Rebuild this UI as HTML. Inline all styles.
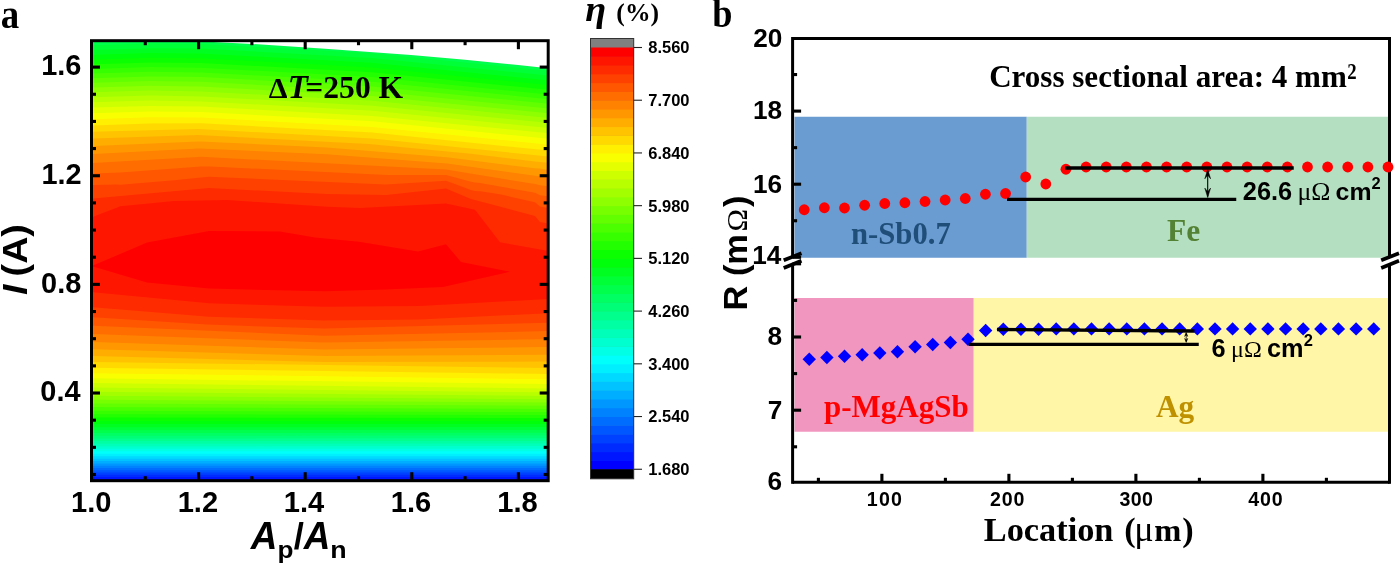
<!DOCTYPE html>
<html lang="en"><head><meta charset="utf-8"><title>Figure</title>
<style>
html,body{margin:0;padding:0;background:#fff;}
body{width:1400px;height:564px;overflow:hidden;}
svg{display:block;}
text{white-space:pre;}
</style></head>
<body>
<svg width="1400" height="564" viewBox="0 0 1400 564">
<defs><clipPath id="clipA"><rect x="91.5" y="40.7" width="456.7" height="440.0"/></clipPath></defs>
<rect width="1400" height="564" fill="#fff"/>
<g clip-path="url(#clipA)"><rect x="91.5" y="40.7" width="456.7" height="440.0" fill="#0000ff"/><path d="M93.0,40.7 537.0,40.7 540.0,40.8 546.0,41.5 548.2,41.5 548.2,479.2 93.0,479.2Z" fill="#0016ff"/><path d="M93.0,40.7 537.0,40.7 540.0,40.8 546.0,41.5 548.2,41.5 548.2,477.0 93.0,477.0Z" fill="#002bff"/><path d="M93.0,40.7 537.0,40.7 540.0,40.8 546.0,41.5 548.2,41.5 548.2,474.7 93.0,474.7Z" fill="#0041ff"/><path d="M93.0,40.7 537.0,40.7 540.0,40.8 546.0,41.5 548.2,41.5 548.2,472.5 93.0,472.5Z" fill="#0057ff"/><path d="M93.0,40.7 537.0,40.7 540.0,40.8 546.0,41.5 548.2,41.5 548.2,470.2 93.0,470.2Z" fill="#006dff"/><path d="M93.0,40.7 537.0,40.7 540.0,40.8 546.0,41.5 548.2,41.5 548.2,468.0 93.0,468.0Z" fill="#0082ff"/><path d="M93.0,40.7 537.0,40.7 540.0,40.8 546.0,41.5 548.2,41.5 548.2,465.7 93.0,465.7Z" fill="#0098ff"/><path d="M93.0,40.7 537.0,40.7 540.0,40.8 546.0,41.5 548.2,41.5 548.2,463.4 93.0,463.4Z" fill="#00aeff"/><path d="M93.0,40.7 537.0,40.7 540.0,40.8 546.0,41.5 548.2,41.5 548.2,461.1 93.0,461.1Z" fill="#00c3ff"/><path d="M93.0,40.7 537.0,40.7 540.0,40.8 546.0,41.5 548.2,41.5 548.2,458.7 93.0,458.7Z" fill="#00d9ff"/><path d="M93.0,40.7 537.0,40.7 540.0,40.8 546.0,41.5 548.2,41.5 548.2,456.3 93.0,456.3Z" fill="#00efff"/><path d="M93.0,40.7 537.0,40.7 540.0,40.8 546.0,41.5 548.2,41.5 548.2,453.8 93.0,453.8Z" fill="#00fffa"/><path d="M93.0,40.7 537.0,40.7 540.0,40.8 546.0,41.5 548.2,41.5 548.2,451.3 93.0,451.3Z" fill="#00ffe4"/><path d="M93.0,40.7 537.0,40.7 540.0,40.8 546.0,41.5 548.2,41.5 548.2,448.7 93.0,448.8Z" fill="#00ffce"/><path d="M93.0,40.7 528.0,40.7 531.0,40.8 546.0,42.5 548.2,42.5 548.2,446.1 93.0,446.2Z" fill="#00ffb8"/><path d="M93.0,40.7 486.0,40.7 546.0,47.1 548.2,47.1 548.2,443.5 93.0,443.7Z" fill="#00ffa3"/><path d="M93.0,40.7 441.0,40.7 546.0,51.7 548.2,51.7 548.2,440.9 93.0,441.1Z" fill="#00ff8d"/><path d="M93.0,40.7 390.0,40.7 546.0,56.4 548.2,56.4 548.2,438.2 93.0,438.5Z" fill="#00ff77"/><path d="M93.0,40.7 318.0,40.7 372.0,43.8 546.0,61.1 548.2,61.1 548.2,435.5 93.0,435.8Z" fill="#00ff62"/><path d="M93.0,40.7 234.0,40.8 372.0,48.5 546.0,65.8 548.2,65.8 548.2,432.7 93.0,433.0Z" fill="#00ff4c"/><path d="M93.0,45.2 150.0,43.4 201.0,43.9 372.0,53.2 546.0,70.5 548.2,70.5 548.2,429.9 93.0,430.2Z" fill="#00ff36"/><path d="M93.0,50.0 150.0,48.2 201.0,48.6 372.0,58.0 546.0,75.3 548.2,75.3 548.2,427.0 93.0,427.2Z" fill="#00ff21"/><path d="M93.0,54.7 150.0,52.9 201.0,53.4 372.0,62.7 546.0,80.0 548.2,80.0 548.2,424.0 93.0,424.1Z" fill="#00ff0b"/><path d="M93.0,59.5 150.0,57.7 201.0,58.2 372.0,67.5 546.0,84.8 548.2,84.8 548.2,421.0 93.0,420.9Z" fill="#0bff00"/><path d="M93.0,64.2 150.0,62.5 201.0,62.9 372.0,72.3 546.0,89.6 548.2,89.6 548.2,418.0 93.0,417.6Z" fill="#21ff00"/><path d="M93.0,68.9 150.0,67.1 201.0,67.7 372.0,77.0 546.0,94.3 548.2,94.3 548.2,415.0 93.0,414.2Z" fill="#36ff00"/><path d="M93.0,73.5 150.0,71.8 201.0,72.4 372.0,81.7 546.0,98.9 548.2,98.9 548.2,412.0 93.0,410.7Z" fill="#4cff00"/><path d="M93.0,78.2 150.0,76.4 201.0,77.1 372.0,86.4 546.0,103.6 548.2,103.6 548.2,408.9 93.0,407.1Z" fill="#62ff00"/><path d="M93.0,82.8 150.0,81.1 201.0,81.8 372.0,91.2 546.0,108.3 548.2,108.3 548.2,405.8 93.0,403.5Z" fill="#77ff00"/><path d="M93.0,87.5 150.0,85.8 201.0,86.6 372.0,96.0 546.0,113.0 548.2,113.0 548.2,402.6 93.0,399.7Z" fill="#8dff00"/><path d="M93.0,92.3 150.0,90.6 201.0,91.4 372.0,100.8 546.0,117.8 548.2,117.8 548.2,399.3 93.0,395.8Z" fill="#a3ff00"/><path d="M93.0,97.2 150.0,95.6 201.0,96.4 372.0,105.7 546.0,122.7 548.2,122.7 548.2,395.9 93.0,391.8Z" fill="#b8ff00"/><path d="M93.0,102.3 150.0,100.6 201.0,101.4 372.0,110.8 546.0,127.8 548.2,127.8 548.2,392.3 93.0,387.5Z" fill="#ceff00"/><path d="M93.0,107.6 150.0,105.9 201.0,106.6 372.0,116.0 546.0,133.1 548.2,133.1 548.2,388.4 93.0,383.0Z" fill="#e4ff00"/><path d="M93.0,113.2 150.0,111.4 201.0,112.0 372.0,121.3 546.0,138.6 548.2,138.6 548.2,384.1 93.0,378.3Z" fill="#faff00"/><path d="M93.0,119.2 150.0,117.3 201.0,117.6 372.0,126.9 546.0,144.4 548.2,144.4 548.2,379.2 93.0,373.2Z" fill="#ffef00"/><path d="M93.0,125.4 150.0,123.4 201.0,123.3 372.0,132.6 546.0,150.3 548.2,150.2 548.2,373.9 93.0,367.8Z" fill="#ffd900"/><path d="M93.0,131.8 198.0,129.0 372.0,138.4 546.0,156.3 548.2,156.3 548.2,368.0 93.0,362.0Z" fill="#ffc300"/><path d="M93.0,138.6 198.0,135.0 369.0,144.1 471.0,153.8 535.0,161.6 540.0,161.9 546.0,162.6 548.2,162.6 548.2,361.6 324.0,362.1 93.0,355.9Z" fill="#ffae00"/><path d="M93.0,145.9 198.0,141.4 201.0,141.4 327.0,147.4 447.0,157.3 535.0,168.3 540.0,168.6 546.0,169.4 548.2,169.4 548.2,354.7 324.0,356.1 93.0,349.3Z" fill="#ff9800"/><path d="M93.0,153.9 198.0,148.5 201.0,148.5 327.0,154.2 447.0,163.5 535.0,175.8 540.0,176.2 546.0,177.0 548.2,177.0 548.2,347.1 324.0,349.6 93.0,342.0Z" fill="#ff8200"/><path d="M93.0,163.1 198.0,156.9 201.0,156.8 446.0,169.4 535.0,184.1 540.0,185.2 546.0,186.1 548.2,186.1 548.2,339.1 324.0,342.5 93.0,334.0Z" fill="#ff6d00"/><path d="M93.0,173.4 120.5,172.6 201.0,166.5 210.0,166.4 387.0,175.1 446.0,174.9 471.0,181.8 475.0,182.6 480.0,183.1 535.0,192.7 540.0,195.2 546.0,196.1 548.2,196.3 548.2,331.1 324.0,335.7 93.0,325.8Z" fill="#ff5700"/><path d="M93.0,184.9 117.0,184.6 120.5,184.7 174.0,180.3 201.0,177.4 209.0,176.8 386.0,184.6 446.0,180.8 471.0,190.1 475.0,191.1 480.0,191.3 492.0,193.0 501.0,194.6 535.0,202.2 540.0,206.6 548.2,207.9 548.2,322.7 324.0,328.6 207.0,324.5 93.0,317.2Z" fill="#ff4100"/><path d="M93.0,198.6 209.0,188.0 327.0,194.0 386.0,195.0 446.0,188.5 471.0,199.0 535.0,216.0 540.0,222.0 548.2,223.5 548.2,313.2 420.0,319.4 324.0,320.5 209.0,316.7 93.0,307.3Z" fill="#ff2b00"/><path d="M93.0,216.8 120.5,206.2 174.0,200.9 227.0,200.0 327.0,206.8 360.0,208.0 446.0,203.5 475.0,209.8 500.0,242.2 546.0,250.5 548.2,250.5 548.2,298.9 420.0,306.0 324.0,306.8 209.0,303.3 93.0,292.2Z" fill="#ff1600"/><path d="M93.0,265.6 147.0,242.5 209.0,231.0 280.0,231.5 315.0,237.6 359.0,241.7 418.0,251.4 446.0,244.3 461.0,262.0 510.0,271.8 443.0,286.9 386.0,289.5 325.0,291.3 209.0,288.6 147.0,282.4 93.0,266.5Z" fill="#ff0000"/><path d="M192.0,40.7 218.0,42.3 252.0,43.9 325.0,48.7 411.0,55.0 465.0,59.8 518.0,65.0 548.2,68.2 548.2,40.7Z" fill="#fff"/></g>
<rect x="91.50" y="40.70" width="456.70" height="440.00" fill="none" stroke="#000" stroke-width="3"/>
<line x1="145.30" y1="480.70" x2="145.30" y2="476.20" stroke="#000" stroke-width="3.1" stroke-linecap="butt"/>
<line x1="145.30" y1="40.70" x2="145.30" y2="45.20" stroke="#000" stroke-width="3.1" stroke-linecap="butt"/>
<line x1="198.60" y1="480.70" x2="198.60" y2="472.20" stroke="#000" stroke-width="3.1" stroke-linecap="butt"/>
<line x1="198.60" y1="40.70" x2="198.60" y2="49.20" stroke="#000" stroke-width="3.1" stroke-linecap="butt"/>
<line x1="251.90" y1="480.70" x2="251.90" y2="476.20" stroke="#000" stroke-width="3.1" stroke-linecap="butt"/>
<line x1="251.90" y1="40.70" x2="251.90" y2="45.20" stroke="#000" stroke-width="3.1" stroke-linecap="butt"/>
<line x1="305.20" y1="480.70" x2="305.20" y2="472.20" stroke="#000" stroke-width="3.1" stroke-linecap="butt"/>
<line x1="305.20" y1="40.70" x2="305.20" y2="49.20" stroke="#000" stroke-width="3.1" stroke-linecap="butt"/>
<line x1="358.50" y1="480.70" x2="358.50" y2="476.20" stroke="#000" stroke-width="3.1" stroke-linecap="butt"/>
<line x1="358.50" y1="40.70" x2="358.50" y2="45.20" stroke="#000" stroke-width="3.1" stroke-linecap="butt"/>
<line x1="411.80" y1="480.70" x2="411.80" y2="472.20" stroke="#000" stroke-width="3.1" stroke-linecap="butt"/>
<line x1="411.80" y1="40.70" x2="411.80" y2="49.20" stroke="#000" stroke-width="3.1" stroke-linecap="butt"/>
<line x1="465.10" y1="480.70" x2="465.10" y2="476.20" stroke="#000" stroke-width="3.1" stroke-linecap="butt"/>
<line x1="465.10" y1="40.70" x2="465.10" y2="45.20" stroke="#000" stroke-width="3.1" stroke-linecap="butt"/>
<line x1="518.40" y1="480.70" x2="518.40" y2="472.20" stroke="#000" stroke-width="3.1" stroke-linecap="butt"/>
<line x1="518.40" y1="40.70" x2="518.40" y2="49.20" stroke="#000" stroke-width="3.1" stroke-linecap="butt"/>
<line x1="91.50" y1="474.50" x2="96.00" y2="474.50" stroke="#000" stroke-width="3.1" stroke-linecap="butt"/>
<line x1="548.20" y1="474.50" x2="543.70" y2="474.50" stroke="#000" stroke-width="3.1" stroke-linecap="butt"/>
<line x1="91.50" y1="447.34" x2="96.00" y2="447.34" stroke="#000" stroke-width="3.1" stroke-linecap="butt"/>
<line x1="548.20" y1="447.34" x2="543.70" y2="447.34" stroke="#000" stroke-width="3.1" stroke-linecap="butt"/>
<line x1="91.50" y1="420.18" x2="96.00" y2="420.18" stroke="#000" stroke-width="3.1" stroke-linecap="butt"/>
<line x1="548.20" y1="420.18" x2="543.70" y2="420.18" stroke="#000" stroke-width="3.1" stroke-linecap="butt"/>
<line x1="91.50" y1="393.02" x2="100.00" y2="393.02" stroke="#000" stroke-width="3.1" stroke-linecap="butt"/>
<line x1="548.20" y1="393.02" x2="539.70" y2="393.02" stroke="#000" stroke-width="3.1" stroke-linecap="butt"/>
<line x1="91.50" y1="365.86" x2="96.00" y2="365.86" stroke="#000" stroke-width="3.1" stroke-linecap="butt"/>
<line x1="548.20" y1="365.86" x2="543.70" y2="365.86" stroke="#000" stroke-width="3.1" stroke-linecap="butt"/>
<line x1="91.50" y1="338.70" x2="96.00" y2="338.70" stroke="#000" stroke-width="3.1" stroke-linecap="butt"/>
<line x1="548.20" y1="338.70" x2="543.70" y2="338.70" stroke="#000" stroke-width="3.1" stroke-linecap="butt"/>
<line x1="91.50" y1="311.54" x2="96.00" y2="311.54" stroke="#000" stroke-width="3.1" stroke-linecap="butt"/>
<line x1="548.20" y1="311.54" x2="543.70" y2="311.54" stroke="#000" stroke-width="3.1" stroke-linecap="butt"/>
<line x1="91.50" y1="284.38" x2="100.00" y2="284.38" stroke="#000" stroke-width="3.1" stroke-linecap="butt"/>
<line x1="548.20" y1="284.38" x2="539.70" y2="284.38" stroke="#000" stroke-width="3.1" stroke-linecap="butt"/>
<line x1="91.50" y1="257.22" x2="96.00" y2="257.22" stroke="#000" stroke-width="3.1" stroke-linecap="butt"/>
<line x1="548.20" y1="257.22" x2="543.70" y2="257.22" stroke="#000" stroke-width="3.1" stroke-linecap="butt"/>
<line x1="91.50" y1="230.06" x2="96.00" y2="230.06" stroke="#000" stroke-width="3.1" stroke-linecap="butt"/>
<line x1="548.20" y1="230.06" x2="543.70" y2="230.06" stroke="#000" stroke-width="3.1" stroke-linecap="butt"/>
<line x1="91.50" y1="202.90" x2="96.00" y2="202.90" stroke="#000" stroke-width="3.1" stroke-linecap="butt"/>
<line x1="548.20" y1="202.90" x2="543.70" y2="202.90" stroke="#000" stroke-width="3.1" stroke-linecap="butt"/>
<line x1="91.50" y1="175.74" x2="100.00" y2="175.74" stroke="#000" stroke-width="3.1" stroke-linecap="butt"/>
<line x1="548.20" y1="175.74" x2="539.70" y2="175.74" stroke="#000" stroke-width="3.1" stroke-linecap="butt"/>
<line x1="91.50" y1="148.58" x2="96.00" y2="148.58" stroke="#000" stroke-width="3.1" stroke-linecap="butt"/>
<line x1="548.20" y1="148.58" x2="543.70" y2="148.58" stroke="#000" stroke-width="3.1" stroke-linecap="butt"/>
<line x1="91.50" y1="121.42" x2="96.00" y2="121.42" stroke="#000" stroke-width="3.1" stroke-linecap="butt"/>
<line x1="548.20" y1="121.42" x2="543.70" y2="121.42" stroke="#000" stroke-width="3.1" stroke-linecap="butt"/>
<line x1="91.50" y1="94.26" x2="96.00" y2="94.26" stroke="#000" stroke-width="3.1" stroke-linecap="butt"/>
<line x1="548.20" y1="94.26" x2="543.70" y2="94.26" stroke="#000" stroke-width="3.1" stroke-linecap="butt"/>
<line x1="91.50" y1="67.10" x2="100.00" y2="67.10" stroke="#000" stroke-width="3.1" stroke-linecap="butt"/>
<line x1="548.20" y1="67.10" x2="539.70" y2="67.10" stroke="#000" stroke-width="3.1" stroke-linecap="butt"/>
<text x="41.24" y="75.40" style="font-family:'Liberation Sans', Arial, sans-serif;font-weight:bold;font-style:normal;font-size:28.90px" fill="#000">1.6</text>
<text x="41.39" y="184.04" style="font-family:'Liberation Sans', Arial, sans-serif;font-weight:bold;font-style:normal;font-size:28.90px" fill="#000">1.2</text>
<text x="41.10" y="292.68" style="font-family:'Liberation Sans', Arial, sans-serif;font-weight:bold;font-style:normal;font-size:28.90px" fill="#000">0.8</text>
<text x="40.37" y="401.32" style="font-family:'Liberation Sans', Arial, sans-serif;font-weight:bold;font-style:normal;font-size:28.90px" fill="#000">0.4</text>
<text x="71.08" y="512.10" style="font-family:'Liberation Sans', Arial, sans-serif;font-weight:bold;font-style:normal;font-size:29.10px" fill="#000">1.0</text>
<text x="177.68" y="512.10" style="font-family:'Liberation Sans', Arial, sans-serif;font-weight:bold;font-style:normal;font-size:29.10px" fill="#000">1.2</text>
<text x="283.78" y="512.10" style="font-family:'Liberation Sans', Arial, sans-serif;font-weight:bold;font-style:normal;font-size:29.10px" fill="#000">1.4</text>
<text x="390.81" y="512.10" style="font-family:'Liberation Sans', Arial, sans-serif;font-weight:bold;font-style:normal;font-size:29.10px" fill="#000">1.6</text>
<text x="497.34" y="512.10" style="font-family:'Liberation Sans', Arial, sans-serif;font-weight:bold;font-style:normal;font-size:29.10px" fill="#000">1.8</text>
<text transform="translate(0.69 27.50) scale(0.9330 1)" style="font-family:'Liberation Serif', 'Times New Roman', serif;font-weight:bold;font-style:normal;font-size:39.57px" fill="#000">a</text>
<text><tspan x="268.65" y="97.70" style="font-family:'Liberation Serif', 'Times New Roman', serif;font-weight:bold;font-style:normal;font-size:29.92px" fill="#000">Δ</tspan><tspan x="287.83" y="97.70" style="font-family:'Liberation Serif', 'Times New Roman', serif;font-weight:bold;font-style:italic;font-size:32.98px" fill="#000">T</tspan><tspan x="305.32" y="97.70" style="font-family:'Liberation Serif', 'Times New Roman', serif;font-weight:bold;font-style:normal;font-size:31.58px" fill="#000">=250 K</tspan></text>
<text><tspan x="250.74" y="548.50" style="font-family:'Liberation Sans', Arial, sans-serif;font-weight:bold;font-style:italic;font-size:38.41px" fill="#000" textLength="26.62" lengthAdjust="spacingAndGlyphs">A</tspan><tspan x="277.60" y="557.70" style="font-family:'Liberation Sans', Arial, sans-serif;font-weight:bold;font-style:normal;font-size:23.26px" fill="#000" textLength="15.97" lengthAdjust="spacingAndGlyphs">p</tspan><tspan x="293.63" y="548.50" style="font-family:'Liberation Sans', Arial, sans-serif;font-weight:bold;font-style:normal;font-size:36.87px" fill="#000" textLength="10.15" lengthAdjust="spacingAndGlyphs">/</tspan><tspan x="303.74" y="548.50" style="font-family:'Liberation Sans', Arial, sans-serif;font-weight:bold;font-style:italic;font-size:38.41px" fill="#000" textLength="26.62" lengthAdjust="spacingAndGlyphs">A</tspan><tspan x="330.26" y="557.70" style="font-family:'Liberation Sans', Arial, sans-serif;font-weight:bold;font-style:normal;font-size:23.26px" fill="#000" textLength="16.37" lengthAdjust="spacingAndGlyphs">n</tspan></text>
<text transform="translate(27.2 294.9) rotate(-90) scale(1.075 1)" style="font-family:'Liberation Sans', Arial, sans-serif;font-weight:bold;font-size:35px" fill="#000"><tspan style="font-style:italic">I</tspan><tspan dx="-2.2"> (A)</tspan></text>
<rect x="590.50" y="38.50" width="43.20" height="440.30" fill="#808080"/>
<rect x="590.50" y="460.47" width="43.20" height="9.29" fill="#0000ff"/>
<rect x="590.50" y="451.69" width="43.20" height="9.29" fill="#0016ff"/>
<rect x="590.50" y="442.90" width="43.20" height="9.29" fill="#002bff"/>
<rect x="590.50" y="434.11" width="43.20" height="9.29" fill="#0041ff"/>
<rect x="590.50" y="425.33" width="43.20" height="9.29" fill="#0057ff"/>
<rect x="590.50" y="416.54" width="43.20" height="9.29" fill="#006dff"/>
<rect x="590.50" y="407.75" width="43.20" height="9.29" fill="#0082ff"/>
<rect x="590.50" y="398.97" width="43.20" height="9.29" fill="#0098ff"/>
<rect x="590.50" y="390.18" width="43.20" height="9.29" fill="#00aeff"/>
<rect x="590.50" y="381.39" width="43.20" height="9.29" fill="#00c3ff"/>
<rect x="590.50" y="372.61" width="43.20" height="9.29" fill="#00d9ff"/>
<rect x="590.50" y="363.82" width="43.20" height="9.29" fill="#00efff"/>
<rect x="590.50" y="355.03" width="43.20" height="9.29" fill="#00fffa"/>
<rect x="590.50" y="346.25" width="43.20" height="9.29" fill="#00ffe4"/>
<rect x="590.50" y="337.46" width="43.20" height="9.29" fill="#00ffce"/>
<rect x="590.50" y="328.67" width="43.20" height="9.29" fill="#00ffb8"/>
<rect x="590.50" y="319.89" width="43.20" height="9.29" fill="#00ffa3"/>
<rect x="590.50" y="311.10" width="43.20" height="9.29" fill="#00ff8d"/>
<rect x="590.50" y="302.31" width="43.20" height="9.29" fill="#00ff77"/>
<rect x="590.50" y="293.53" width="43.20" height="9.29" fill="#00ff62"/>
<rect x="590.50" y="284.74" width="43.20" height="9.29" fill="#00ff4c"/>
<rect x="590.50" y="275.95" width="43.20" height="9.29" fill="#00ff36"/>
<rect x="590.50" y="267.17" width="43.20" height="9.29" fill="#00ff21"/>
<rect x="590.50" y="258.38" width="43.20" height="9.29" fill="#00ff0b"/>
<rect x="590.50" y="249.59" width="43.20" height="9.29" fill="#0bff00"/>
<rect x="590.50" y="240.81" width="43.20" height="9.29" fill="#21ff00"/>
<rect x="590.50" y="232.02" width="43.20" height="9.29" fill="#36ff00"/>
<rect x="590.50" y="223.23" width="43.20" height="9.29" fill="#4cff00"/>
<rect x="590.50" y="214.45" width="43.20" height="9.29" fill="#62ff00"/>
<rect x="590.50" y="205.66" width="43.20" height="9.29" fill="#77ff00"/>
<rect x="590.50" y="196.87" width="43.20" height="9.29" fill="#8dff00"/>
<rect x="590.50" y="188.09" width="43.20" height="9.29" fill="#a3ff00"/>
<rect x="590.50" y="179.30" width="43.20" height="9.29" fill="#b8ff00"/>
<rect x="590.50" y="170.51" width="43.20" height="9.29" fill="#ceff00"/>
<rect x="590.50" y="161.73" width="43.20" height="9.29" fill="#e4ff00"/>
<rect x="590.50" y="152.94" width="43.20" height="9.29" fill="#faff00"/>
<rect x="590.50" y="144.15" width="43.20" height="9.29" fill="#ffef00"/>
<rect x="590.50" y="135.37" width="43.20" height="9.29" fill="#ffd900"/>
<rect x="590.50" y="126.58" width="43.20" height="9.29" fill="#ffc300"/>
<rect x="590.50" y="117.79" width="43.20" height="9.29" fill="#ffae00"/>
<rect x="590.50" y="109.01" width="43.20" height="9.29" fill="#ff9800"/>
<rect x="590.50" y="100.22" width="43.20" height="9.29" fill="#ff8200"/>
<rect x="590.50" y="91.43" width="43.20" height="9.29" fill="#ff6d00"/>
<rect x="590.50" y="82.65" width="43.20" height="9.29" fill="#ff5700"/>
<rect x="590.50" y="73.86" width="43.20" height="9.29" fill="#ff4100"/>
<rect x="590.50" y="65.07" width="43.20" height="9.29" fill="#ff2b00"/>
<rect x="590.50" y="56.29" width="43.20" height="9.29" fill="#ff1600"/>
<rect x="590.50" y="47.50" width="43.20" height="9.29" fill="#ff0000"/>
<rect x="590.50" y="469.26" width="43.20" height="9.54" fill="#000"/>
<rect x="590.50" y="38.50" width="43.20" height="440.30" fill="none" stroke="#333" stroke-width="1"/>
<line x1="633.70" y1="47.50" x2="642.00" y2="47.50" stroke="#222" stroke-width="1.1" stroke-linecap="butt"/>
<text x="648.21" y="53.40" style="font-family:'Liberation Sans', Arial, sans-serif;font-weight:bold;font-style:normal;font-size:16.50px" fill="#000">8.560</text>
<line x1="633.70" y1="100.22" x2="642.00" y2="100.22" stroke="#222" stroke-width="1.1" stroke-linecap="butt"/>
<text x="648.21" y="106.12" style="font-family:'Liberation Sans', Arial, sans-serif;font-weight:bold;font-style:normal;font-size:16.50px" fill="#000">7.700</text>
<line x1="633.70" y1="152.94" x2="642.00" y2="152.94" stroke="#222" stroke-width="1.1" stroke-linecap="butt"/>
<text x="648.21" y="158.84" style="font-family:'Liberation Sans', Arial, sans-serif;font-weight:bold;font-style:normal;font-size:16.50px" fill="#000">6.840</text>
<line x1="633.70" y1="205.66" x2="642.00" y2="205.66" stroke="#222" stroke-width="1.1" stroke-linecap="butt"/>
<text x="648.21" y="211.56" style="font-family:'Liberation Sans', Arial, sans-serif;font-weight:bold;font-style:normal;font-size:16.50px" fill="#000">5.980</text>
<line x1="633.70" y1="258.38" x2="642.00" y2="258.38" stroke="#222" stroke-width="1.1" stroke-linecap="butt"/>
<text x="648.21" y="264.28" style="font-family:'Liberation Sans', Arial, sans-serif;font-weight:bold;font-style:normal;font-size:16.50px" fill="#000">5.120</text>
<line x1="633.70" y1="311.10" x2="642.00" y2="311.10" stroke="#222" stroke-width="1.1" stroke-linecap="butt"/>
<text x="648.21" y="317.00" style="font-family:'Liberation Sans', Arial, sans-serif;font-weight:bold;font-style:normal;font-size:16.50px" fill="#000">4.260</text>
<line x1="633.70" y1="363.82" x2="642.00" y2="363.82" stroke="#222" stroke-width="1.1" stroke-linecap="butt"/>
<text x="648.21" y="369.72" style="font-family:'Liberation Sans', Arial, sans-serif;font-weight:bold;font-style:normal;font-size:16.50px" fill="#000">3.400</text>
<line x1="633.70" y1="416.54" x2="642.00" y2="416.54" stroke="#222" stroke-width="1.1" stroke-linecap="butt"/>
<text x="648.21" y="422.44" style="font-family:'Liberation Sans', Arial, sans-serif;font-weight:bold;font-style:normal;font-size:16.50px" fill="#000">2.540</text>
<line x1="633.70" y1="469.26" x2="642.00" y2="469.26" stroke="#222" stroke-width="1.1" stroke-linecap="butt"/>
<text x="648.21" y="475.16" style="font-family:'Liberation Sans', Arial, sans-serif;font-weight:bold;font-style:normal;font-size:16.50px" fill="#000">1.680</text>
<text><tspan x="585.24" y="21.00" style="font-family:'Liberation Serif', 'Times New Roman', serif;font-weight:bold;font-style:italic;font-size:36.81px" fill="#000" textLength="30.47" lengthAdjust="spacingAndGlyphs">η </tspan><tspan x="616.35" y="21.00" style="font-family:'Liberation Serif', 'Times New Roman', serif;font-weight:bold;font-style:normal;font-size:25.63px" fill="#000">(%)</tspan></text>
<rect x="794.50" y="116.75" width="232.25" height="141.00" fill="#6a9bd1"/>
<rect x="1026.75" y="116.75" width="362.75" height="141.00" fill="#b5dfc1"/>
<rect x="794.50" y="298.00" width="179.25" height="133.75" fill="#f196be"/>
<rect x="973.75" y="298.00" width="415.75" height="133.75" fill="#fff6a8"/>
<line x1="792.60" y1="37.00" x2="792.60" y2="257.00" stroke="#000" stroke-width="3" stroke-linecap="butt"/>
<line x1="792.60" y1="264.00" x2="792.60" y2="483.80" stroke="#000" stroke-width="3" stroke-linecap="butt"/>
<line x1="1389.50" y1="37.00" x2="1389.50" y2="257.00" stroke="#000" stroke-width="3" stroke-linecap="butt"/>
<line x1="1389.50" y1="264.00" x2="1389.50" y2="483.80" stroke="#000" stroke-width="3" stroke-linecap="butt"/>
<line x1="792.60" y1="38.50" x2="1389.50" y2="38.50" stroke="#000" stroke-width="3" stroke-linecap="butt"/>
<line x1="792.60" y1="482.30" x2="1389.50" y2="482.30" stroke="#000" stroke-width="3" stroke-linecap="butt"/>
<line x1="783.70" y1="260.30" x2="801.50" y2="253.30" stroke="#000" stroke-width="3.7" stroke-linecap="butt"/>
<line x1="783.70" y1="268.00" x2="801.50" y2="260.70" stroke="#000" stroke-width="3.7" stroke-linecap="butt"/>
<line x1="1381.20" y1="260.30" x2="1399.00" y2="253.30" stroke="#000" stroke-width="3.7" stroke-linecap="butt"/>
<line x1="1381.20" y1="268.00" x2="1399.00" y2="260.70" stroke="#000" stroke-width="3.7" stroke-linecap="butt"/>
<line x1="792.60" y1="257.30" x2="801.10" y2="257.30" stroke="#000" stroke-width="3.1" stroke-linecap="butt"/>
<line x1="792.60" y1="220.75" x2="797.10" y2="220.75" stroke="#000" stroke-width="3.1" stroke-linecap="butt"/>
<line x1="792.60" y1="184.20" x2="801.10" y2="184.20" stroke="#000" stroke-width="3.1" stroke-linecap="butt"/>
<line x1="792.60" y1="147.65" x2="797.10" y2="147.65" stroke="#000" stroke-width="3.1" stroke-linecap="butt"/>
<line x1="792.60" y1="111.10" x2="801.10" y2="111.10" stroke="#000" stroke-width="3.1" stroke-linecap="butt"/>
<line x1="792.60" y1="74.55" x2="797.10" y2="74.55" stroke="#000" stroke-width="3.1" stroke-linecap="butt"/>
<line x1="792.60" y1="446.80" x2="797.10" y2="446.80" stroke="#000" stroke-width="3.1" stroke-linecap="butt"/>
<line x1="792.60" y1="410.20" x2="801.10" y2="410.20" stroke="#000" stroke-width="3.1" stroke-linecap="butt"/>
<line x1="792.60" y1="373.60" x2="797.10" y2="373.60" stroke="#000" stroke-width="3.1" stroke-linecap="butt"/>
<line x1="792.60" y1="337.00" x2="801.10" y2="337.00" stroke="#000" stroke-width="3.1" stroke-linecap="butt"/>
<line x1="792.60" y1="300.40" x2="797.10" y2="300.40" stroke="#000" stroke-width="3.1" stroke-linecap="butt"/>
<line x1="792.60" y1="263.80" x2="801.10" y2="263.80" stroke="#000" stroke-width="3.1" stroke-linecap="butt"/>
<line x1="818.40" y1="482.30" x2="818.40" y2="477.80" stroke="#000" stroke-width="3.1" stroke-linecap="butt"/>
<line x1="881.90" y1="482.30" x2="881.90" y2="473.80" stroke="#000" stroke-width="3.1" stroke-linecap="butt"/>
<line x1="945.40" y1="482.30" x2="945.40" y2="477.80" stroke="#000" stroke-width="3.1" stroke-linecap="butt"/>
<line x1="1008.90" y1="482.30" x2="1008.90" y2="473.80" stroke="#000" stroke-width="3.1" stroke-linecap="butt"/>
<line x1="1072.40" y1="482.30" x2="1072.40" y2="477.80" stroke="#000" stroke-width="3.1" stroke-linecap="butt"/>
<line x1="1135.90" y1="482.30" x2="1135.90" y2="473.80" stroke="#000" stroke-width="3.1" stroke-linecap="butt"/>
<line x1="1199.40" y1="482.30" x2="1199.40" y2="477.80" stroke="#000" stroke-width="3.1" stroke-linecap="butt"/>
<line x1="1262.90" y1="482.30" x2="1262.90" y2="473.80" stroke="#000" stroke-width="3.1" stroke-linecap="butt"/>
<line x1="1326.40" y1="482.30" x2="1326.40" y2="477.80" stroke="#000" stroke-width="3.1" stroke-linecap="butt"/>
<text x="753.17" y="46.70" style="font-family:'Liberation Sans', Arial, sans-serif;font-weight:bold;font-style:normal;font-size:26.20px" fill="#000">20</text>
<text x="752.90" y="119.40" style="font-family:'Liberation Sans', Arial, sans-serif;font-weight:bold;font-style:normal;font-size:26.20px" fill="#000">18</text>
<text x="753.04" y="192.50" style="font-family:'Liberation Sans', Arial, sans-serif;font-weight:bold;font-style:normal;font-size:26.20px" fill="#000">16</text>
<text x="752.25" y="263.90" style="font-family:'Liberation Sans', Arial, sans-serif;font-weight:bold;font-style:normal;font-size:26.20px" fill="#000">14</text>
<text x="767.45" y="345.30" style="font-family:'Liberation Sans', Arial, sans-serif;font-weight:bold;font-style:normal;font-size:26.20px" fill="#000">8</text>
<text x="767.71" y="418.50" style="font-family:'Liberation Sans', Arial, sans-serif;font-weight:bold;font-style:normal;font-size:26.20px" fill="#000">7</text>
<text x="767.58" y="490.30" style="font-family:'Liberation Sans', Arial, sans-serif;font-weight:bold;font-style:normal;font-size:26.20px" fill="#000">6</text>
<text x="866.72" y="506.40" style="font-family:'Liberation Sans', Arial, sans-serif;font-weight:bold;font-style:normal;font-size:19.60px;letter-spacing:1.26px" fill="#000">100</text>
<text x="990.01" y="506.40" style="font-family:'Liberation Sans', Arial, sans-serif;font-weight:bold;font-style:normal;font-size:19.60px;letter-spacing:0.87px" fill="#000">200</text>
<text x="1119.51" y="506.40" style="font-family:'Liberation Sans', Arial, sans-serif;font-weight:bold;font-style:normal;font-size:19.60px;letter-spacing:0.37px" fill="#000">300</text>
<text x="1248.31" y="506.40" style="font-family:'Liberation Sans', Arial, sans-serif;font-weight:bold;font-style:normal;font-size:19.60px;letter-spacing:0.77px" fill="#000">400</text>
<text transform="translate(712.14 26.60) scale(0.9200 1)" style="font-family:'Liberation Serif', 'Times New Roman', serif;font-weight:bold;font-style:normal;font-size:39.50px" fill="#000">b</text>
<text><tspan x="989.15" y="87.10" style="font-family:'Liberation Serif', 'Times New Roman', serif;font-weight:bold;font-style:normal;font-size:31.07px" fill="#000">Cross sectional area: 4 mm</tspan><tspan x="1347.15" y="79.30" style="font-family:'Liberation Serif', 'Times New Roman', serif;font-weight:bold;font-style:normal;font-size:22.73px" fill="#000" textLength="9.40" lengthAdjust="spacingAndGlyphs">2</tspan></text>
<text x="850.98" y="244.00" style="font-family:'Liberation Serif', 'Times New Roman', serif;font-weight:bold;font-style:normal;font-size:30.70px" fill="#1f4e79">n-Sb0.7</text>
<text x="1167.03" y="241.00" style="font-family:'Liberation Serif', 'Times New Roman', serif;font-weight:bold;font-style:normal;font-size:31.53px" fill="#548235">Fe</text>
<text x="823.94" y="416.75" style="font-family:'Liberation Serif', 'Times New Roman', serif;font-weight:bold;font-style:normal;font-size:31.04px" fill="#ff0000">p-MgAgSb</text>
<text x="1155.94" y="416.75" style="font-family:'Liberation Serif', 'Times New Roman', serif;font-weight:bold;font-style:normal;font-size:31.25px" fill="#bf9000">Ag</text>
<text><tspan x="983.78" y="541.00" style="font-family:'Liberation Serif', 'Times New Roman', serif;font-weight:bold;font-style:normal;font-size:34.34px" fill="#000">Location </tspan><tspan x="1124.15" y="541.00" style="font-family:'Liberation Serif', 'Times New Roman', serif;font-weight:bold;font-style:normal;font-size:34.34px" fill="#000">(</tspan><tspan x="1134.21" y="541.00" style="font-family:'Liberation Serif', 'Times New Roman', serif;font-weight:normal;font-style:normal;font-size:36.14px" fill="#000">μ</tspan><tspan x="1154.19" y="541.00" style="font-family:'Liberation Serif', 'Times New Roman', serif;font-weight:bold;font-style:normal;font-size:32.53px" fill="#000">m</tspan><tspan x="1182.14" y="541.00" style="font-family:'Liberation Serif', 'Times New Roman', serif;font-weight:bold;font-style:normal;font-size:34.34px" fill="#000">)</tspan></text>
<circle cx="804.25" cy="209.75" r="5.4" fill="#ff0000"/>
<circle cx="824.38" cy="207.75" r="5.4" fill="#ff0000"/>
<circle cx="844.51" cy="208.00" r="5.4" fill="#ff0000"/>
<circle cx="864.64" cy="205.25" r="5.4" fill="#ff0000"/>
<circle cx="884.77" cy="203.50" r="5.4" fill="#ff0000"/>
<circle cx="904.90" cy="202.75" r="5.4" fill="#ff0000"/>
<circle cx="925.03" cy="201.50" r="5.4" fill="#ff0000"/>
<circle cx="945.16" cy="200.00" r="5.4" fill="#ff0000"/>
<circle cx="965.29" cy="198.50" r="5.4" fill="#ff0000"/>
<circle cx="985.42" cy="194.25" r="5.4" fill="#ff0000"/>
<circle cx="1005.55" cy="193.50" r="5.4" fill="#ff0000"/>
<circle cx="1025.68" cy="177.00" r="5.4" fill="#ff0000"/>
<circle cx="1045.81" cy="184.00" r="5.4" fill="#ff0000"/>
<circle cx="1065.94" cy="169.25" r="5.4" fill="#ff0000"/>
<circle cx="1086.07" cy="167.00" r="5.4" fill="#ff0000"/>
<circle cx="1106.20" cy="167.00" r="5.4" fill="#ff0000"/>
<circle cx="1126.33" cy="167.00" r="5.4" fill="#ff0000"/>
<circle cx="1146.46" cy="167.00" r="5.4" fill="#ff0000"/>
<circle cx="1166.59" cy="167.00" r="5.4" fill="#ff0000"/>
<circle cx="1186.72" cy="167.00" r="5.4" fill="#ff0000"/>
<circle cx="1206.85" cy="167.00" r="5.4" fill="#ff0000"/>
<circle cx="1226.98" cy="167.00" r="5.4" fill="#ff0000"/>
<circle cx="1247.11" cy="167.00" r="5.4" fill="#ff0000"/>
<circle cx="1267.24" cy="167.00" r="5.4" fill="#ff0000"/>
<circle cx="1287.37" cy="167.00" r="5.4" fill="#ff0000"/>
<circle cx="1307.50" cy="167.00" r="5.4" fill="#ff0000"/>
<circle cx="1327.63" cy="167.00" r="5.4" fill="#ff0000"/>
<circle cx="1347.76" cy="167.00" r="5.4" fill="#ff0000"/>
<circle cx="1367.89" cy="167.00" r="5.4" fill="#ff0000"/>
<circle cx="1388.02" cy="167.00" r="5.4" fill="#ff0000"/>
<path d="M802.55,359.25 L809.25,352.55 L815.95,359.25 L809.25,365.95Z" fill="#0000ff"/>
<path d="M820.19,357.50 L826.89,350.80 L833.59,357.50 L826.89,364.20Z" fill="#0000ff"/>
<path d="M837.83,356.25 L844.53,349.55 L851.23,356.25 L844.53,362.95Z" fill="#0000ff"/>
<path d="M855.47,354.75 L862.17,348.05 L868.87,354.75 L862.17,361.45Z" fill="#0000ff"/>
<path d="M873.11,353.00 L879.81,346.30 L886.51,353.00 L879.81,359.70Z" fill="#0000ff"/>
<path d="M890.75,351.75 L897.45,345.05 L904.15,351.75 L897.45,358.45Z" fill="#0000ff"/>
<path d="M908.39,346.75 L915.09,340.05 L921.79,346.75 L915.09,353.45Z" fill="#0000ff"/>
<path d="M926.03,344.50 L932.73,337.80 L939.43,344.50 L932.73,351.20Z" fill="#0000ff"/>
<path d="M943.67,342.50 L950.37,335.80 L957.07,342.50 L950.37,349.20Z" fill="#0000ff"/>
<path d="M961.31,339.25 L968.01,332.55 L974.71,339.25 L968.01,345.95Z" fill="#0000ff"/>
<path d="M978.95,330.50 L985.65,323.80 L992.35,330.50 L985.65,337.20Z" fill="#0000ff"/>
<path d="M996.59,329.25 L1003.29,322.55 L1009.99,329.25 L1003.29,335.95Z" fill="#0000ff"/>
<path d="M1014.23,329.25 L1020.93,322.55 L1027.63,329.25 L1020.93,335.95Z" fill="#0000ff"/>
<path d="M1031.87,329.25 L1038.57,322.55 L1045.27,329.25 L1038.57,335.95Z" fill="#0000ff"/>
<path d="M1049.51,328.90 L1056.21,322.20 L1062.91,328.90 L1056.21,335.60Z" fill="#0000ff"/>
<path d="M1067.15,328.90 L1073.85,322.20 L1080.55,328.90 L1073.85,335.60Z" fill="#0000ff"/>
<path d="M1084.79,328.90 L1091.49,322.20 L1098.19,328.90 L1091.49,335.60Z" fill="#0000ff"/>
<path d="M1102.43,328.90 L1109.13,322.20 L1115.83,328.90 L1109.13,335.60Z" fill="#0000ff"/>
<path d="M1120.07,328.90 L1126.77,322.20 L1133.47,328.90 L1126.77,335.60Z" fill="#0000ff"/>
<path d="M1137.71,328.90 L1144.41,322.20 L1151.11,328.90 L1144.41,335.60Z" fill="#0000ff"/>
<path d="M1155.35,328.90 L1162.05,322.20 L1168.75,328.90 L1162.05,335.60Z" fill="#0000ff"/>
<path d="M1172.99,328.90 L1179.69,322.20 L1186.39,328.90 L1179.69,335.60Z" fill="#0000ff"/>
<path d="M1190.63,328.90 L1197.33,322.20 L1204.03,328.90 L1197.33,335.60Z" fill="#0000ff"/>
<path d="M1208.27,328.90 L1214.97,322.20 L1221.67,328.90 L1214.97,335.60Z" fill="#0000ff"/>
<path d="M1225.91,328.90 L1232.61,322.20 L1239.31,328.90 L1232.61,335.60Z" fill="#0000ff"/>
<path d="M1243.55,328.90 L1250.25,322.20 L1256.95,328.90 L1250.25,335.60Z" fill="#0000ff"/>
<path d="M1261.19,328.90 L1267.89,322.20 L1274.59,328.90 L1267.89,335.60Z" fill="#0000ff"/>
<path d="M1278.83,328.90 L1285.53,322.20 L1292.23,328.90 L1285.53,335.60Z" fill="#0000ff"/>
<path d="M1296.47,328.90 L1303.17,322.20 L1309.87,328.90 L1303.17,335.60Z" fill="#0000ff"/>
<path d="M1314.11,328.90 L1320.81,322.20 L1327.51,328.90 L1320.81,335.60Z" fill="#0000ff"/>
<path d="M1331.75,328.90 L1338.45,322.20 L1345.15,328.90 L1338.45,335.60Z" fill="#0000ff"/>
<path d="M1349.39,328.90 L1356.09,322.20 L1362.79,328.90 L1356.09,335.60Z" fill="#0000ff"/>
<path d="M1367.03,328.90 L1373.73,322.20 L1380.43,328.90 L1373.73,335.60Z" fill="#0000ff"/>
<line x1="1065.00" y1="168.00" x2="1293.75" y2="168.00" stroke="#000" stroke-width="3.4" stroke-linecap="butt"/>
<line x1="1007.00" y1="199.40" x2="1236.25" y2="199.40" stroke="#000" stroke-width="3.4" stroke-linecap="butt"/>
<line x1="997.00" y1="329.50" x2="1194.50" y2="331.00" stroke="#000" stroke-width="3.3" stroke-linecap="butt"/>
<line x1="968.75" y1="344.30" x2="1198.75" y2="344.30" stroke="#000" stroke-width="3.3" stroke-linecap="butt"/>
<path d="M1207.7,170.3 L1207.7,196.6" stroke="#000" stroke-width="1.1" fill="none"/>
<path d="M1207.7,169.3 L1204.8,178.8 L1207.7,175.19 L1210.6000000000001,178.8Z M1207.7,197.6 L1204.8,188.1 L1207.7,191.71 L1210.6000000000001,188.1Z" fill="#000" stroke="#000" stroke-width="0.5" stroke-linejoin="miter"/>
<path d="M1186.2,333.4 L1186.2,341.4" stroke="#000" stroke-width="0.8" fill="none"/>
<path d="M1186.2,332.4 L1184.6000000000001,336.4 L1186.2,334.88 L1187.8,336.4Z M1186.2,342.4 L1184.6000000000001,338.4 L1186.2,339.91999999999996 L1187.8,338.4Z" fill="#000" stroke="#000" stroke-width="0.5" stroke-linejoin="miter"/>
<text><tspan x="1242.86" y="200.25" style="font-family:'Liberation Sans', Arial, sans-serif;font-weight:bold;font-style:normal;font-size:25.33px" fill="#000">26.6 </tspan><tspan x="1297.44" y="200.25" style="font-family:'Liberation Serif', 'Times New Roman', serif;font-weight:normal;font-style:normal;font-size:25.76px" fill="#000">μΩ </tspan><tspan x="1335.61" y="200.25" style="font-family:'Liberation Sans', Arial, sans-serif;font-weight:bold;font-style:normal;font-size:24.83px" fill="#000">cm</tspan><tspan x="1371.42" y="189.40" style="font-family:'Liberation Sans', Arial, sans-serif;font-weight:bold;font-style:normal;font-size:16.50px" fill="#000">2</tspan></text>
<text><tspan x="1211.61" y="356.75" style="font-family:'Liberation Sans', Arial, sans-serif;font-weight:bold;font-style:normal;font-size:25.30px" fill="#000">6 </tspan><tspan x="1231.08" y="356.75" style="font-family:'Liberation Serif', 'Times New Roman', serif;font-weight:normal;font-style:normal;font-size:24.00px" fill="#000">μΩ </tspan><tspan x="1266.99" y="356.75" style="font-family:'Liberation Sans', Arial, sans-serif;font-weight:bold;font-style:normal;font-size:25.30px" fill="#000">cm</tspan><tspan x="1303.72" y="345.80" style="font-family:'Liberation Sans', Arial, sans-serif;font-weight:bold;font-style:normal;font-size:16.50px" fill="#000">2</tspan></text>
<text transform="translate(747.1 310.4) rotate(-90) scale(1.01 1)" style="font-family:'Liberation Sans', Arial, sans-serif;font-weight:bold;font-size:34px" fill="#000">R (m<tspan style="font-family:'Liberation Serif', serif;font-weight:normal;font-size:30px" dx="2.5">Ω</tspan><tspan dx="2">)</tspan></text>
</svg>
</body></html>
